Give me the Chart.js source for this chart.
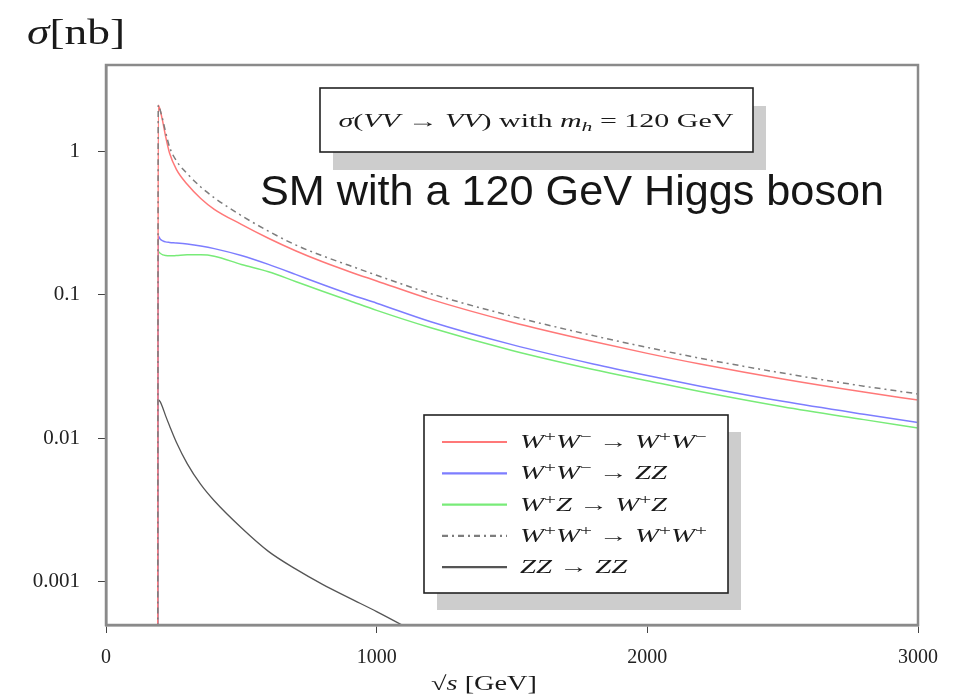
<!DOCTYPE html>
<html><head><meta charset="utf-8">
<script src="https://cdn.jsdelivr.net/npm/chart.js@4/dist/chart.umd.min.js"></script>
<style>html,body{margin:0;padding:0;background:#fff}canvas{display:block}</style>
</head><body>
<canvas id="c" width="961" height="696"></canvas>
<script>
// ---- data ----
const sqrtS = [191,193,200,210,220,235,260,300,350,400,500,600,700,800,900,1000,1200,1500,1800,2000,2200,2500,2800,3000];
const sigmaWWtoWW     = [0.0001,2.1,1.94,1.6,1.28,0.97,0.75,0.59,0.47,0.395,0.31,0.248,0.203,0.170,0.145,0.125,0.093,0.0645,0.0473,0.0391,0.0328,0.0259,0.021,0.0185];
const sigmaWWtoZZ     = [0.0001,0.257,0.245,0.238,0.234,0.232,0.23,0.226,0.219,0.21,0.188,0.163,0.139,0.118,0.101,0.0875,0.065,0.045,0.033,0.0274,0.023,0.0181,0.0147,0.0129];
const sigmaWZtoWZ     = [0.0001,0.2,0.195,0.19,0.188,0.187,0.188,0.19,0.19,0.186,0.163,0.145,0.124,0.106,0.091,0.078,0.059,0.041,0.0302,0.0252,0.0211,0.0166,0.0135,0.0118];
const sigmaWpWptoWpWp = [0.0001,2.1,1.94,1.65,1.37,1.07,0.86,0.70,0.565,0.475,0.357,0.278,0.223,0.187,0.16,0.137,0.102,0.071,0.052,0.043,0.036,0.0285,0.0231,0.0204];
const sigmaZZtoZZ     = [0.0001,0.0185,0.018,0.0163,0.0144,0.0122,0.0094,0.00667,0.00477,0.00367,0.00238,0.00163,0.00123,0.00096,0.00077,0.00062,0.00039,null,null,null,null,null,null,null];
const seriesLabels = ['W⁺W⁻ → W⁺W⁻','W⁺W⁻ → ZZ','W⁺Z → W⁺Z','W⁺W⁺ → W⁺W⁺','ZZ → ZZ'];
const xTickValues = [0,1000,2000,3000];
const xTickLabels = ['0','1000','2000','3000'];
const yTickValues = [1,0.1,0.01,0.001];
const yTickLabels = ['1','0.1','0.01','0.001'];
const annotationText = 'SM with a 120 GeV Higgs boson';
const titleBoxSegs = [['σ','i'],['(','n'],['VV','i'],[' → ','n'],['VV','i'],[') with ','n'],['m','i'],['h','sub'],[' = 120 GeV','n']];
const xTitleSegs = [['√','n'],['s','i'],[' [GeV]','n']];
const yTitleSegs = [['σ','i'],['[nb]','n']];

const SERIF = '"Liberation Serif", "DejaVu Serif", serif';

function segFont(type, size){
  if (type === 'sub' || type === 'sup') return `italic ${Math.round(size*0.7)}px ${SERIF}`;
  if (type === 'i') return `italic ${size}px ${SERIF}`;
  if (type === 'supn') return `${Math.round(size*0.72)}px ${SERIF}`;
  return `${size}px ${SERIF}`;
}
function richWidth(ctx, segs, size){
  let w = 0;
  for (const [t,ty] of segs){ ctx.font = segFont(ty,size); w += ctx.measureText(t).width; }
  return w;
}
function drawRich(ctx, segs, x, y, size, align, target, color){
  ctx.save();
  const nat = richWidth(ctx, segs, size);
  const sx = target ? target/nat : 1;
  const w = nat*sx;
  let x0 = align === 'center' ? x - w/2 : x;
  ctx.translate(x0, y); ctx.scale(sx, 1);
  ctx.fillStyle = color || '#1a1a1a'; ctx.textBaseline = 'alphabetic'; ctx.textAlign = 'left';
  let cx = 0;
  for (const [t,ty] of segs){
    ctx.font = segFont(ty,size);
    let dy = 0;
    if (ty === 'sub') dy = size*0.2;
    if (ty === 'sup' || ty === 'supn') dy = -size*0.36;
    ctx.fillText(t, cx, dy);
    cx += ctx.measureText(t).width;
  }
  ctx.restore();
  return w;
}
function labelSegs(label){
  const segs = [];
  for (const ch of label){
    if (ch === '⁺') segs.push(['+','supn']);
    else if (ch === '⁻') segs.push(['−','supn']);
    else if (/[A-Za-z]/.test(ch)) segs.push([ch,'i']);
    else segs.push([ch,'n']);
  }
  return segs;
}
function shadowBox(ctx, x, y, w, h, dx, dy){
  ctx.save();
  ctx.fillStyle = '#cdcdcd';
  ctx.fillRect(x+dx, y+dy, w, h);
  ctx.fillStyle = '#ffffff';
  ctx.fillRect(x, y, w, h);
  ctx.strokeStyle = '#222'; ctx.lineWidth = 1.6;
  ctx.strokeRect(x, y, w, h);
  ctx.restore();
}

const overlay = {
  id: 'overlay',
  afterDatasetsDraw(chart){
    const ctx = chart.ctx, a = chart.chartArea;
    // frame
    ctx.save(); ctx.strokeStyle = '#8a8a8a'; ctx.lineWidth = 2.5;
    ctx.strokeRect(a.left, a.top, a.right-a.left, a.bottom-a.top); ctx.restore();
    // title box
    shadowBox(ctx, 320, 88, 433, 64, 13, 18);
    drawRich(ctx, titleBoxSegs, 536, 127, 18, 'center', 395);
    // big annotation
    ctx.save();
    ctx.font = `42px "Liberation Sans", Arial, sans-serif`;
    const nw = ctx.measureText(annotationText).width;
    ctx.translate(260, 205); ctx.scale(624/nw, 1);
    ctx.fillStyle = '#161616'; ctx.textBaseline = 'alphabetic';
    ctx.fillText(annotationText, 0, 0);
    ctx.restore();
    // legend
    shadowBox(ctx, 424, 415, 304, 178, 13, 17);
    const ds = chart.data.datasets;
    const nat0 = richWidth(ctx, labelSegs(ds[0].label), 19);
    const hs = 187/nat0;
    ds.forEach((d,i)=>{
      const yc = 442 + i*31.3;
      ctx.save();
      ctx.strokeStyle = d.borderColor; ctx.lineWidth = 2.2;
      ctx.setLineDash(d.borderDash || []);
      ctx.beginPath(); ctx.moveTo(442, yc); ctx.lineTo(507, yc); ctx.stroke();
      ctx.restore();
      const segs = labelSegs(d.label);
      drawRich(ctx, segs, 520, yc+6, 19, 'left', richWidth(ctx, segs, 19)*hs);
    });
  },
  afterDraw(chart){
    const ctx = chart.ctx;
    drawRich(ctx, yTitleSegs, 27, 44, 36, 'left', 98);
    drawRich(ctx, xTitleSegs, 484, 690, 20, 'center', 106);
  }
};

function mk(arr){ return sqrtS.map((x,i)=>({x:x, y:arr[i]})); }

new Chart(document.getElementById('c'), {
  type: 'line',
  data: {
    datasets: [
      {label: seriesLabels[0], data: mk(sigmaWWtoWW), borderColor: 'rgb(255,120,120)', borderWidth: 1.5},
      {label: seriesLabels[1], data: mk(sigmaWWtoZZ), borderColor: 'rgb(125,125,255)', borderWidth: 1.5},
      {label: seriesLabels[2], data: mk(sigmaWZtoWZ), borderColor: 'rgb(120,235,120)', borderWidth: 1.5},
      {label: seriesLabels[3], data: mk(sigmaWpWptoWpWp), borderColor: 'rgb(125,125,125)', borderWidth: 1.5, borderDash: [6,4,2,4], order: -1},
      {label: seriesLabels[4], data: mk(sigmaZZtoZZ), borderColor: 'rgb(85,85,85)', borderWidth: 1.3}
    ]
  },
  options: {
    responsive: false,
    devicePixelRatio: 1,
    animation: false,
    spanGaps: false,
    elements: { point: {radius: 0}, line: {cubicInterpolationMode: 'monotone', fill: false} },
    layout: { padding: {top: 65, right: 43, left: 0, bottom: 0} },
    plugins: { legend: {display: false}, title: {display: false}, tooltip: {enabled: false} },
    scales: {
      x: {
        type: 'linear', min: 0, max: 3000,
        afterBuildTicks: s => { s.ticks = xTickValues.map(v=>({value:v})); },
        afterFit: s => { s.height = 71; },
        ticks: { callback: (v,i) => xTickLabels[i], font: {family: SERIF, size: 20}, color: '#222', padding: 13, maxRotation: 0, autoSkip: false },
        grid: { drawOnChartArea: false, drawTicks: true, tickLength: 8, color: '#444', tickColor: '#444' },
        border: { display: true, color: '#8a8a8a', width: 2.5 },
        title: { display: false }
      },
      y: {
        type: 'logarithmic', min: 0.0005, max: 4,
        afterBuildTicks: s => { s.ticks = yTickValues.map(v=>({value:v})); },
        afterFit: s => { s.width = 106; },
        ticks: { callback: (v,i) => yTickLabels[i], font: {family: SERIF, size: 21}, color: '#222', padding: 18, autoSkip: false },
        grid: { drawOnChartArea: false, drawTicks: true, tickLength: 8, color: '#444', tickColor: '#444' },
        border: { display: true, color: '#8a8a8a', width: 2.5 },
        title: { display: false }
      }
    }
  },
  plugins: [overlay]
});
</script>
</body></html>
